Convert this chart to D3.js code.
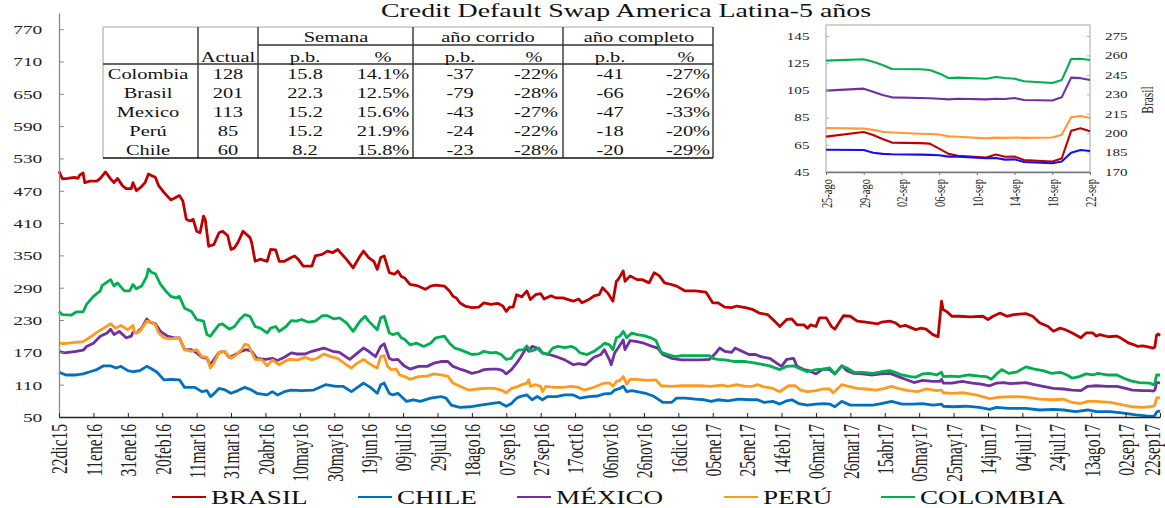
<!DOCTYPE html>
<html>
<head>
<meta charset="utf-8">
<script src="https://cdn.jsdelivr.net/npm/d3@7"></script>
<style>
  body { margin: 0; background: #fff; }
  svg { display: block; font-family: "Liberation Serif", "Times New Roman", serif; }
</style>
</head>
<body>
<div id="chart"></div>
<script>
var svgWidth = 1165;
var svgHeight = 508;

// ---------- data ----------
var titulo = "Credit Default Swap America Latina-5 años";
var paises = ["BRASIL", "CHILE", "MÉXICO", "PERÚ", "COLOMBIA"];
var colores = ["#C00000", "#0070C0", "#7030A0", "#FF9A1F", "#00B050"];
var ticksY = [50, 110, 170, 230, 290, 350, 410, 470, 530, 590, 650, 710, 770];
var meses = ["ene", "feb", "mar", "abr", "may", "jun", "jul", "ago", "sep", "oct", "nov", "dic"];
var etiquetasX = ["22dic15", "11ene16", "31ene16", "20feb16", "11mar16", "31mar16", "20abr16", "10may16",
  "30may16", "19jun16", "09jul16", "29jul16", "18ago16", "07sep16", "27sep16", "17oct16", "06nov16",
  "26nov16", "16dic16", "05ene17", "25ene17", "14feb17", "06mar17", "26mar17", "15abr17", "05may17",
  "25may17", "14jun17", "04jul17", "24jul17", "13ago17", "02sep17", "22sep17"];

var brasil = [["2015-12-22",506],["2015-12-24",492],["2015-12-27",493],["2015-12-31",495],["2016-01-02",493],["2016-01-03",499],["2016-01-05",503],["2016-01-06",485],["2016-01-09",488],["2016-01-13",488],["2016-01-15",493],["2016-01-17",501],["2016-01-18",505],["2016-01-21",492],["2016-01-23",485],["2016-01-25",493],["2016-01-28",479],["2016-01-30",474],["2016-02-02",474],["2016-02-03",485],["2016-02-05",470],["2016-02-08",478],["2016-02-10",485],["2016-02-12",501],["2016-02-14",498],["2016-02-16",495],["2016-02-18",479],["2016-02-21",467],["2016-02-25",453],["2016-02-27",456],["2016-03-01",461],["2016-03-03",451],["2016-03-05",417],["2016-03-07",414],["2016-03-09",417],["2016-03-11",395],["2016-03-13",392],["2016-03-15",423],["2016-03-16",417],["2016-03-18",367],["2016-03-21",370],["2016-03-24",392],["2016-03-26",395],["2016-03-29",387],["2016-03-31",361],["2016-04-02",364],["2016-04-04",374],["2016-04-07",395],["2016-04-11",383],["2016-04-12",374],["2016-04-14",339],["2016-04-17",343],["2016-04-21",339],["2016-04-23",361],["2016-04-26",360],["2016-04-28",339],["2016-05-01",339],["2016-05-05",346],["2016-05-07",349],["2016-05-09",343],["2016-05-12",330],["2016-05-17",330],["2016-05-19",349],["2016-05-23",352],["2016-05-26",358],["2016-05-29",355],["2016-06-01",361],["2016-06-06",343],["2016-06-10",327],["2016-06-14",349],["2016-06-16",358],["2016-06-19",346],["2016-06-22",339],["2016-06-24",324],["2016-06-26",346],["2016-06-28",349],["2016-07-01",318],["2016-07-04",315],["2016-07-06",321],["2016-07-08",311],["2016-07-10",308],["2016-07-13",296],["2016-07-17",294],["2016-07-20",290],["2016-07-22",287],["2016-07-25",293],["2016-07-28",295],["2016-08-02",293],["2016-08-05",284],["2016-08-07",274],["2016-08-09",271],["2016-08-11",262],["2016-08-14",256],["2016-08-18",253],["2016-08-22",254],["2016-08-25",262],["2016-08-29",259],["2016-09-02",261],["2016-09-05",256],["2016-09-07",246],["2016-09-09",254],["2016-09-11",254],["2016-09-13",277],["2016-09-16",273],["2016-09-19",284],["2016-09-21",268],["2016-09-24",277],["2016-09-27",279],["2016-09-29",269],["2016-10-03",275],["2016-10-06",271],["2016-10-10",271],["2016-10-13",268],["2016-10-16",265],["2016-10-19",269],["2016-10-21",262],["2016-10-25",268],["2016-10-28",275],["2016-10-31",277],["2016-11-02",290],["2016-11-05",280],["2016-11-08",265],["2016-11-10",302],["2016-11-11",305],["2016-11-14",321],["2016-11-15",302],["2016-11-18",312],["2016-11-22",305],["2016-11-25",305],["2016-11-29",299],["2016-12-02",318],["2016-12-05",312],["2016-12-08",299],["2016-12-12",296],["2016-12-15",293],["2016-12-20",284],["2016-12-26",284],["2017-01-01",282],["2017-01-05",262],["2017-01-08",262],["2017-01-12",254],["2017-01-16",253],["2017-01-19",256],["2017-01-24",253],["2017-01-28",250],["2017-02-01",243],["2017-02-06",240],["2017-02-10",228],["2017-02-13",218],["2017-02-17",231],["2017-02-20",232],["2017-02-23",221],["2017-02-27",221],["2017-03-01",215],["2017-03-03",221],["2017-03-06",218],["2017-03-08",234],["2017-03-12",234],["2017-03-15",218],["2017-03-17",213],["2017-03-20",228],["2017-03-22",238],["2017-03-26",237],["2017-03-30",228],["2017-04-04",226],["2017-04-11",223],["2017-04-13",226],["2017-04-18",228],["2017-04-21",225],["2017-04-24",218],["2017-04-27",220],["2017-05-01",215],["2017-05-03",212],["2017-05-06",215],["2017-05-09",213],["2017-05-13",203],["2017-05-16",199],["2017-05-18",265],["2017-05-19",249],["2017-05-21",246],["2017-05-24",237],["2017-05-28",237],["2017-06-04",236],["2017-06-11",237],["2017-06-14",231],["2017-06-17",237],["2017-06-21",243],["2017-06-25",237],["2017-06-29",240],["2017-07-06",242],["2017-07-10",237],["2017-07-14",225],["2017-07-19",218],["2017-07-22",209],["2017-07-26",215],["2017-07-29",212],["2017-08-02",206],["2017-08-07",197],["2017-08-10",206],["2017-08-14",206],["2017-08-16",200],["2017-08-18",203],["2017-08-23",199],["2017-08-28",200],["2017-08-30",197],["2017-09-04",187],["2017-09-07",184],["2017-09-09",181],["2017-09-12",182],["2017-09-15",180],["2017-09-18",178],["2017-09-19",180],["2017-09-20",202],["2017-09-21",204],["2017-09-22",201]];

var chile = [["2015-12-22",133],["2015-12-26",128],["2016-01-01",128],["2016-01-05",130],["2016-01-09",134],["2016-01-13",138],["2016-01-17",145],["2016-01-21",145],["2016-01-24",141],["2016-01-27",144],["2016-01-31",136],["2016-02-03",134],["2016-02-07",136],["2016-02-11",144],["2016-02-14",139],["2016-02-17",133],["2016-02-21",119],["2016-02-25",120],["2016-03-01",119],["2016-03-04",105],["2016-03-10",105],["2016-03-14",97],["2016-03-17",99],["2016-03-19",88],["2016-03-21",93],["2016-03-24",103],["2016-03-27",101],["2016-03-31",94],["2016-04-04",99],["2016-04-08",105],["2016-04-12",100],["2016-04-15",94],["2016-04-21",91],["2016-04-24",97],["2016-04-27",91],["2016-05-01",97],["2016-05-05",100],["2016-05-11",99],["2016-05-18",100],["2016-05-25",110],["2016-05-31",107],["2016-06-04",107],["2016-06-09",97],["2016-06-16",113],["2016-06-20",105],["2016-06-24",94],["2016-06-26",110],["2016-06-28",113],["2016-07-01",94],["2016-07-03",91],["2016-07-06",94],["2016-07-08",88],["2016-07-11",79],["2016-07-15",82],["2016-07-19",79],["2016-07-25",85],["2016-07-31",88],["2016-08-03",85],["2016-08-06",72],["2016-08-11",68],["2016-08-17",69],["2016-08-23",72],["2016-08-29",75],["2016-09-03",77],["2016-09-07",70],["2016-09-10",75],["2016-09-13",85],["2016-09-15",88],["2016-09-19",91],["2016-09-22",82],["2016-09-25",88],["2016-09-28",82],["2016-10-01",88],["2016-10-06",88],["2016-10-11",91],["2016-10-16",91],["2016-10-20",85],["2016-10-25",88],["2016-10-30",89],["2016-11-03",93],["2016-11-07",94],["2016-11-09",100],["2016-11-12",103],["2016-11-14",107],["2016-11-16",97],["2016-11-19",99],["2016-11-22",97],["2016-11-27",94],["2016-12-02",88],["2016-12-07",77],["2016-12-12",77],["2016-12-15",85],["2016-12-20",85],["2016-12-26",83],["2016-12-31",82],["2017-01-04",79],["2017-01-08",82],["2017-01-14",80],["2017-01-20",83],["2017-01-26",82],["2017-01-31",82],["2017-02-04",77],["2017-02-09",79],["2017-02-13",74],["2017-02-17",80],["2017-02-20",82],["2017-02-24",75],["2017-03-01",72],["2017-03-06",74],["2017-03-11",75],["2017-03-14",74],["2017-03-17",69],["2017-03-21",79],["2017-03-26",72],["2017-04-01",72],["2017-04-08",72],["2017-04-13",75],["2017-04-19",79],["2017-04-25",74],["2017-05-01",74],["2017-05-07",75],["2017-05-13",72],["2017-05-18",74],["2017-05-19",70],["2017-05-25",69],["2017-06-01",70],["2017-06-09",68],["2017-06-15",64],["2017-06-19",68],["2017-06-26",66],["2017-07-06",66],["2017-07-14",63],["2017-07-22",64],["2017-07-28",63],["2017-08-04",60],["2017-08-11",63],["2017-08-16",60],["2017-08-24",60],["2017-09-01",57],["2017-09-08",54],["2017-09-14",52],["2017-09-18",51],["2017-09-19",53],["2017-09-20",59],["2017-09-21",61],["2017-09-22",60]];

var mexico = [["2015-12-22",172],["2015-12-25",169],["2016-01-01",172],["2016-01-05",174],["2016-01-07",181],["2016-01-11",187],["2016-01-15",200],["2016-01-19",206],["2016-01-21",213],["2016-01-23",203],["2016-01-26",209],["2016-01-30",197],["2016-02-02",200],["2016-02-03",207],["2016-02-05",206],["2016-02-08",215],["2016-02-11",232],["2016-02-13",226],["2016-02-16",223],["2016-02-19",209],["2016-02-23",200],["2016-02-27",197],["2016-03-01",197],["2016-03-04",175],["2016-03-08",175],["2016-03-11",169],["2016-03-14",161],["2016-03-17",159],["2016-03-19",147],["2016-03-21",156],["2016-03-24",170],["2016-03-27",172],["2016-03-30",161],["2016-04-02",165],["2016-04-06",172],["2016-04-09",175],["2016-04-12",172],["2016-04-15",159],["2016-04-20",157],["2016-04-24",159],["2016-04-27",155],["2016-05-01",161],["2016-05-05",169],["2016-05-08",167],["2016-05-13",167],["2016-05-17",172],["2016-05-24",178],["2016-05-29",172],["2016-06-02",170],["2016-06-08",157],["2016-06-11",165],["2016-06-16",178],["2016-06-19",172],["2016-06-23",162],["2016-06-26",181],["2016-06-28",186],["2016-07-01",159],["2016-07-03",156],["2016-07-06",157],["2016-07-08",150],["2016-07-10",144],["2016-07-13",139],["2016-07-18",144],["2016-07-23",144],["2016-07-27",150],["2016-07-31",153],["2016-08-04",153],["2016-08-07",144],["2016-08-11",139],["2016-08-14",136],["2016-08-18",131],["2016-08-22",134],["2016-08-25",138],["2016-08-29",139],["2016-09-02",139],["2016-09-05",136],["2016-09-07",130],["2016-09-10",138],["2016-09-13",150],["2016-09-15",159],["2016-09-18",175],["2016-09-19",178],["2016-09-20",172],["2016-09-22",181],["2016-09-25",178],["2016-09-28",169],["2016-10-02",166],["2016-10-07",161],["2016-10-11",156],["2016-10-16",147],["2016-10-19",149],["2016-10-23",147],["2016-10-28",161],["2016-11-01",166],["2016-11-03",175],["2016-11-06",156],["2016-11-07",147],["2016-11-09",169],["2016-11-11",178],["2016-11-14",193],["2016-11-15",175],["2016-11-18",192],["2016-11-22",190],["2016-11-26",187],["2016-11-30",182],["2016-12-04",178],["2016-12-07",166],["2016-12-12",159],["2016-12-18",156],["2016-12-24",156],["2016-12-29",156],["2017-01-03",157],["2017-01-06",166],["2017-01-09",178],["2017-01-12",172],["2017-01-16",170],["2017-01-18",178],["2017-01-22",172],["2017-01-26",166],["2017-01-30",166],["2017-02-02",162],["2017-02-07",159],["2017-02-14",144],["2017-02-17",157],["2017-02-21",159],["2017-02-23",144],["2017-02-27",138],["2017-03-02",136],["2017-03-06",130],["2017-03-10",139],["2017-03-14",138],["2017-03-17",130],["2017-03-21",145],["2017-03-24",136],["2017-03-28",131],["2017-04-02",130],["2017-04-08",128],["2017-04-13",130],["2017-04-18",131],["2017-04-23",125],["2017-04-27",120],["2017-05-02",114],["2017-05-07",118],["2017-05-13",116],["2017-05-17",116],["2017-05-18",120],["2017-05-19",113],["2017-05-24",113],["2017-05-30",116],["2017-06-05",113],["2017-06-10",111],["2017-06-15",108],["2017-06-19",113],["2017-06-23",114],["2017-06-27",112],["2017-07-02",113],["2017-07-06",114],["2017-07-11",110],["2017-07-16",107],["2017-07-22",103],["2017-07-28",102],["2017-08-02",100],["2017-08-07",99],["2017-08-11",107],["2017-08-16",108],["2017-08-22",107],["2017-08-28",107],["2017-09-02",103],["2017-09-06",100],["2017-09-12",99],["2017-09-16",99],["2017-09-18",98],["2017-09-19",100],["2017-09-20",114],["2017-09-21",114],["2017-09-22",113]];

var peru = [["2015-12-22",188],["2015-12-24",186],["2015-12-30",188],["2016-01-05",190],["2016-01-09",198],["2016-01-13",207],["2016-01-17",215],["2016-01-21",223],["2016-01-24",215],["2016-01-27",220],["2016-01-31",212],["2016-02-03",220],["2016-02-04",206],["2016-02-07",209],["2016-02-11",228],["2016-02-14",226],["2016-02-16",221],["2016-02-18",206],["2016-02-21",197],["2016-02-25",195],["2016-03-01",197],["2016-03-04",175],["2016-03-08",172],["2016-03-11",175],["2016-03-14",162],["2016-03-17",161],["2016-03-19",141],["2016-03-21",150],["2016-03-24",170],["2016-03-27",172],["2016-03-31",159],["2016-04-03",165],["2016-04-06",175],["2016-04-08",185],["2016-04-10",184],["2016-04-14",157],["2016-04-18",156],["2016-04-21",145],["2016-04-24",156],["2016-04-28",147],["2016-05-01",153],["2016-05-04",157],["2016-05-09",156],["2016-05-13",161],["2016-05-17",156],["2016-05-20",159],["2016-05-24",167],["2016-05-28",162],["2016-06-01",159],["2016-06-06",147],["2016-06-09",141],["2016-06-12",149],["2016-06-16",157],["2016-06-19",150],["2016-06-22",144],["2016-06-24",141],["2016-06-26",162],["2016-06-28",164],["2016-06-30",144],["2016-07-02",138],["2016-07-05",139],["2016-07-07",128],["2016-07-10",125],["2016-07-13",120],["2016-07-18",125],["2016-07-23",126],["2016-07-27",130],["2016-07-31",128],["2016-08-04",126],["2016-08-07",113],["2016-08-11",107],["2016-08-16",100],["2016-08-21",102],["2016-08-26",103],["2016-08-31",103],["2016-09-04",100],["2016-09-07",95],["2016-09-10",103],["2016-09-14",107],["2016-09-16",110],["2016-09-19",113],["2016-09-20",119],["2016-09-21",107],["2016-09-24",110],["2016-09-27",107],["2016-09-28",97],["2016-09-30",107],["2016-10-05",105],["2016-10-10",105],["2016-10-15",107],["2016-10-19",105],["2016-10-22",100],["2016-10-26",103],["2016-10-30",108],["2016-11-03",113],["2016-11-06",113],["2016-11-08",107],["2016-11-10",116],["2016-11-12",118],["2016-11-14",125],["2016-11-16",111],["2016-11-18",120],["2016-11-22",120],["2016-11-28",118],["2016-12-03",119],["2016-12-06",108],["2016-12-12",107],["2016-12-18",108],["2016-12-24",108],["2016-12-29",108],["2017-01-04",107],["2017-01-10",109],["2017-01-14",107],["2017-01-19",110],["2017-01-24",107],["2017-01-28",107],["2017-01-31",110],["2017-02-04",106],["2017-02-09",103],["2017-02-13",97],["2017-02-18",108],["2017-02-22",108],["2017-02-25",100],["2017-03-01",97],["2017-03-06",99],["2017-03-10",102],["2017-03-14",102],["2017-03-16",95],["2017-03-21",110],["2017-03-25",107],["2017-03-30",103],["2017-04-04",102],["2017-04-10",100],["2017-04-15",103],["2017-04-19",107],["2017-04-24",102],["2017-04-29",99],["2017-05-04",97],["2017-05-09",102],["2017-05-15",99],["2017-05-18",100],["2017-05-19",95],["2017-05-24",94],["2017-05-31",95],["2017-06-07",91],["2017-06-15",84],["2017-06-21",87],["2017-06-28",88],["2017-07-06",87],["2017-07-14",83],["2017-07-22",82],["2017-07-28",83],["2017-08-02",77],["2017-08-07",75],["2017-08-11",79],["2017-08-16",79],["2017-08-24",77],["2017-09-01",72],["2017-09-06",69],["2017-09-12",68],["2017-09-16",69],["2017-09-18",70],["2017-09-19",72],["2017-09-20",85],["2017-09-21",86],["2017-09-22",85]];

var colombia = [["2015-12-22",246],["2015-12-24",240],["2015-12-29",239],["2016-01-01",245],["2016-01-05",245],["2016-01-07",259],["2016-01-11",274],["2016-01-15",284],["2016-01-16",294],["2016-01-21",305],["2016-01-23",293],["2016-01-25",299],["2016-01-29",284],["2016-02-01",284],["2016-02-03",296],["2016-02-05",288],["2016-02-08",293],["2016-02-11",311],["2016-02-12",325],["2016-02-14",318],["2016-02-16",316],["2016-02-19",296],["2016-02-22",284],["2016-02-25",274],["2016-02-28",271],["2016-03-01",274],["2016-03-04",252],["2016-03-08",246],["2016-03-11",231],["2016-03-15",228],["2016-03-17",203],["2016-03-19",200],["2016-03-21",209],["2016-03-24",221],["2016-03-26",223],["2016-03-30",213],["2016-04-02",218],["2016-04-05",231],["2016-04-08",240],["2016-04-11",237],["2016-04-14",218],["2016-04-17",215],["2016-04-21",206],["2016-04-23",215],["2016-04-26",218],["2016-04-28",209],["2016-05-02",218],["2016-05-05",229],["2016-05-08",228],["2016-05-11",231],["2016-05-15",226],["2016-05-19",228],["2016-05-23",238],["2016-05-26",238],["2016-05-30",232],["2016-06-02",234],["2016-06-06",225],["2016-06-10",209],["2016-06-14",228],["2016-06-17",237],["2016-06-19",228],["2016-06-24",212],["2016-06-26",234],["2016-06-28",237],["2016-07-01",206],["2016-07-03",203],["2016-07-06",206],["2016-07-08",197],["2016-07-10",194],["2016-07-13",184],["2016-07-17",187],["2016-07-21",181],["2016-07-25",187],["2016-07-28",197],["2016-08-02",200],["2016-08-05",187],["2016-08-08",178],["2016-08-11",175],["2016-08-15",170],["2016-08-18",166],["2016-08-22",167],["2016-08-25",172],["2016-08-29",169],["2016-09-01",170],["2016-09-04",166],["2016-09-07",157],["2016-09-10",159],["2016-09-12",169],["2016-09-14",174],["2016-09-17",175],["2016-09-19",182],["2016-09-21",172],["2016-09-23",174],["2016-09-26",178],["2016-09-28",169],["2016-10-01",166],["2016-10-04",178],["2016-10-07",181],["2016-10-11",179],["2016-10-15",181],["2016-10-17",178],["2016-10-20",169],["2016-10-24",166],["2016-10-28",172],["2016-11-01",181],["2016-11-03",187],["2016-11-06",184],["2016-11-08",175],["2016-11-10",197],["2016-11-12",200],["2016-11-14",209],["2016-11-16",197],["2016-11-19",206],["2016-11-22",203],["2016-11-26",201],["2016-11-30",197],["2016-12-03",192],["2016-12-06",170],["2016-12-10",166],["2016-12-14",162],["2016-12-18",164],["2016-12-24",164],["2016-12-29",164],["2017-01-03",164],["2017-01-05",159],["2017-01-08",157],["2017-01-12",156],["2017-01-18",153],["2017-01-24",153],["2017-01-28",151],["2017-02-02",148],["2017-02-07",145],["2017-02-13",138],["2017-02-17",144],["2017-02-21",145],["2017-02-25",139],["2017-03-01",134],["2017-03-06",138],["2017-03-10",139],["2017-03-14",141],["2017-03-17",130],["2017-03-21",145],["2017-03-24",141],["2017-03-28",133],["2017-04-02",133],["2017-04-08",131],["2017-04-13",134],["2017-04-18",136],["2017-04-21",133],["2017-04-25",128],["2017-04-30",125],["2017-05-03",124],["2017-05-07",130],["2017-05-11",131],["2017-05-15",128],["2017-05-18",133],["2017-05-19",125],["2017-05-23",126],["2017-05-28",125],["2017-06-03",128],["2017-06-09",126],["2017-06-13",125],["2017-06-16",120],["2017-06-19",130],["2017-06-22",138],["2017-06-26",131],["2017-07-01",134],["2017-07-06",143],["2017-07-11",139],["2017-07-16",136],["2017-07-21",131],["2017-07-26",133],["2017-07-30",128],["2017-08-02",122],["2017-08-06",125],["2017-08-10",130],["2017-08-14",128],["2017-08-17",131],["2017-08-22",128],["2017-08-28",128],["2017-09-01",122],["2017-09-05",117],["2017-09-10",114],["2017-09-16",113],["2017-09-18",110],["2017-09-19",113],["2017-09-20",128],["2017-09-21",128],["2017-09-22",128]];

// tabla
var tablaPaises = ["Colombia", "Brasil", "Mexico", "Perú", "Chile"];
var actual = ["128", "201", "113", "85", "60"];
var semanaPb = ["15.8", "22.3", "15.2", "15.2", "8.2"];
var semanaPct = ["14.1%", "12.5%", "15.6%", "21.9%", "15.8%"];
var corridoPb = ["-37", "-79", "-43", "-24", "-23"];
var corridoPct = ["-22%", "-28%", "-27%", "-22%", "-28%"];
var completoPb = ["-41", "-66", "-47", "-18", "-20"];
var completoPct = ["-27%", "-26%", "-33%", "-20%", "-29%"];

// recuadro ultimo mes
var fechasZoom = ["2017-08-25","2017-08-29","2017-08-30","2017-08-31","2017-09-01","2017-09-04","2017-09-05",
  "2017-09-06","2017-09-07","2017-09-08","2017-09-11","2017-09-12","2017-09-13","2017-09-14","2017-09-15",
  "2017-09-18","2017-09-19","2017-09-20","2017-09-21","2017-09-22"];
var zoomBrasil = [197.3,200.9,198.5,195.5,192.7,192.3,191.9,188,184,182.5,181.2,183.5,181.8,182,179.2,178.1,180.4,201.8,203.7,201.4];
var zoomChile = [61.4,61.2,59.2,58.3,58,57.8,57.6,57.3,56.3,56.3,55.1,55.3,54.1,54.3,52.4,51.4,52.7,59.2,61.2,60.4];
var zoomMexico = [104.8,106.3,104,101.6,99.9,99.4,99.2,98.9,98.4,98.9,98.4,98.9,98.7,99.4,97.9,97.6,99.9,114.4,114,112.6];
var zoomPeru = [77.4,76.9,76,74.5,74.1,73.1,72.9,72.6,71.2,70.9,69.7,70.3,70.1,70.4,70.1,70.4,72.4,85.2,86.2,84.7];
var zoomColombia = [126.9,127.9,126.1,123.7,120.7,120.5,120,117.5,114.1,114.4,113.6,114.9,114.1,113.6,111.7,110.4,112.6,128.1,128.3,127.4];
var coloresZoom = ["#C00000", "#1010F0", "#7030A0", "#FF9933", "#00B050"];
var ticksZoomIzq = [45, 65, 85, 105, 125, 145];
var ticksZoomDer = [170, 185, 200, 215, 230, 245, 260, 275];
var etiquetasZoomX = ["25-ago", "29-ago", "02-sep", "06-sep", "10-sep", "14-sep", "18-sep", "22-sep"];

// ---------- helpers ----------
var parseFecha = d3.utcParse("%Y-%m-%d");
function parseEtiqueta(s, anio) {
  // "22dic15" o "25-ago"
  var dia = +s.slice(0, 2);
  var resto = s.slice(2).replace("-", "");
  var mes = meses.indexOf(resto.slice(0, 3));
  var yy = anio || 2000 + (+resto.slice(3));
  return new Date(Date.UTC(yy, mes, dia));
}
var SX = 1.44; // texto ensanchado como en la imagen original
var fuente = '"Liberation Serif", "Times New Roman", serif';

var svg = d3.select("#chart").append("svg")
  .attr("width", svgWidth)
  .attr("height", svgHeight);

function texto(g, x, y, s, size, anchor, sx) {
  return g.append("text")
    .attr("transform", `translate(${x},${y}) scale(${sx || SX},1)`)
    .attr("font-size", size)
    .attr("text-anchor", anchor || "middle")
    .attr("fill", "#111")
    .text(s);
}

// ---------- title ----------
texto(svg, 626, 17, titulo, 18, "middle", 1.55);

// ---------- main chart ----------
var x = d3.scaleUtc()
  .domain([parseFecha("2015-12-22"), parseFecha("2017-09-22")])
  .range([59, 1160]);
var y = d3.scaleLinear().domain([50, 800]).range([417, 13]);

var series = [brasil, chile, mexico, peru, colombia];
var linea = d3.line()
  .x(d => x(parseFecha(d[0])))
  .y(d => y(d[1]));

series.forEach(function(s, i) {
  svg.append("path")
    .datum(s)
    .attr("fill", "none")
    .attr("stroke", colores[i])
    .attr("stroke-width", 2.8)
    .attr("stroke-linejoin", "round")
    .attr("d", linea);
});

var yAxis = d3.axisLeft(y).tickValues(ticksY).tickSizeInner(-5).tickSizeOuter(0).tickPadding(11.6);
var gy = svg.append("g").attr("transform", "translate(59,0)").call(yAxis)
  .attr("font-family", fuente).attr("font-size", 13.5);
gy.select(".domain").attr("stroke", "#8a8a8a").attr("stroke-width", 1.3);
gy.selectAll(".tick line").attr("stroke", "#8a8a8a");
gy.selectAll(".tick text").attr("transform", `scale(${SX},1)`).attr("fill", "#222");

var xAxis = d3.axisBottom(x)
  .tickValues(etiquetasX.map(e => parseEtiqueta(e)))
  .tickFormat((d, i) => etiquetasX[i])
  .tickSizeInner(-4).tickSizeOuter(0);
var gx = svg.append("g").attr("transform", "translate(0,417)").call(xAxis)
  .attr("font-family", fuente).attr("font-size", 15.5);
gx.select(".domain").attr("stroke", "#222").attr("stroke-width", 1.3);
gx.selectAll(".tick line").attr("stroke", "#222");
var nX = etiquetasX.length;
gx.selectAll(".tick text")
  .attr("transform", (d, i) => `translate(${i === nX - 1 ? -8 : 0},0) scale(${SX},1) rotate(-90)`)
  .attr("x", -7).attr("y", 0).attr("dy", "0.35em")
  .attr("text-anchor", "end").attr("fill", "#222");

// ---------- legend ----------
var legX = [172, 358, 517, 724, 881];
var leyenda = svg.append("g");
paises.forEach(function(p, i) {
  leyenda.append("line")
    .attr("x1", legX[i]).attr("x2", legX[i] + 34)
    .attr("y1", 497).attr("y2", 497)
    .attr("stroke", colores[i]).attr("stroke-width", 2.2);
  texto(leyenda, legX[i] + 39, 504, p, 19, "start", 1.43);
});

// ---------- table ----------
var tabla = svg.append("g").attr("font-family", fuente);
var gris = "#c4c4c4", oscuro = "#333";
function raya(x1, y1, x2, y2, c, w) {
  tabla.append("line").attr("x1", x1).attr("y1", y1).attr("x2", x2).attr("y2", y2)
    .attr("stroke", c).attr("stroke-width", w || 1.4);
}
raya(103, 27, 713, 27, gris, 1.6);
raya(103, 27, 103, 158, gris, 1.6);
[198, 258, 413, 563, 713].forEach(v => raya(v, 27, v, 158, oscuro));
raya(258, 45, 713, 45, oscuro);
raya(103, 64, 713, 64, oscuro);
raya(103, 158, 713, 158, "#111", 1.6);

var tSize = 15, tSX = 1.36;
texto(tabla, 336, 41.7, "Semana", tSize, "middle", tSX);
texto(tabla, 488, 41.7, "año corrido", tSize, "middle", tSX);
texto(tabla, 639, 41.7, "año completo", tSize, "middle", tSX);
var colX = [148, 228, 305, 383, 460, 534, 610, 686];
var cab = ["", "Actual", "p.b.", "%", "p.b.", "%", "p.b.", "%"];
cab.forEach((c, j) => { if (c) texto(tabla, colX[j], 61.5, c, tSize, "middle", tSX); });
var columnas = [tablaPaises, actual, semanaPb, semanaPct, corridoPb, corridoPct, completoPb, completoPct];
var filasY = [79.3, 98.3, 117.3, 136.3, 155];
columnas.forEach(function(col, j) {
  col.forEach(function(v, i) {
    texto(tabla, colX[j] + (j === 5 || j === 7 ? 2 : 0), filasY[i], v, tSize, "middle", tSX);
  });
});

// ---------- inset (ultimo mes) ----------
var ins = svg.append("g").attr("font-family", fuente);
var xz = d3.scaleUtc()
  .domain([parseFecha("2017-08-25"), parseFecha("2017-09-22")])
  .range([826, 1090]);
var yzL = d3.scaleLinear().domain([45, 145]).range([172, 36]);
var yzR = d3.scaleLinear().domain([170, 275]).range([172, 36]);

ins.append("rect").attr("x", 826).attr("y", 25).attr("width", 264).attr("height", 147)
  .attr("fill", "none").attr("stroke", "#c8c8c8").attr("stroke-width", 1.6);

var seriesZoom = [zoomBrasil, zoomChile, zoomMexico, zoomPeru, zoomColombia];
seriesZoom.forEach(function(s, i) {
  var yy = i === 0 ? yzR : yzL;
  var ln = d3.line().x((d, k) => xz(parseFecha(fechasZoom[k]))).y(d => yy(d));
  ins.append("path").datum(s)
    .attr("fill", "none").attr("stroke", coloresZoom[i])
    .attr("stroke-width", 2.1).attr("stroke-linejoin", "round")
    .attr("d", ln);
});

var gzl = ins.append("g").attr("transform", "translate(826,0)")
  .call(d3.axisLeft(yzL).tickValues(ticksZoomIzq).tickSizeInner(-3).tickSizeOuter(0).tickPadding(11.5))
  .attr("font-family", fuente).attr("font-size", 10.5);
var gzr = ins.append("g").attr("transform", "translate(1090,0)")
  .call(d3.axisRight(yzR).tickValues(ticksZoomDer).tickSizeInner(-3).tickSizeOuter(0).tickPadding(10.4))
  .attr("font-family", fuente).attr("font-size", 10.5);
[gzl, gzr].forEach(function(g) {
  g.select(".domain").remove();
  g.selectAll(".tick line").attr("stroke", "#b0b0b0");
  g.selectAll(".tick text").attr("transform", `scale(${SX},1)`).attr("fill", "#222");
});

var gzx = ins.append("g").attr("transform", "translate(0,172)")
  .call(d3.axisBottom(xz)
    .tickValues(etiquetasZoomX.map(e => parseEtiqueta(e, 2017)))
    .tickFormat((d, i) => etiquetasZoomX[i])
    .tickSizeInner(3).tickSizeOuter(0))
  .attr("font-family", fuente).attr("font-size", 10.5);
gzx.select(".domain").attr("stroke", "#777").attr("stroke-width", 1.3);
gzx.selectAll(".tick line").attr("stroke", "#777");
gzx.selectAll(".tick text")
  .attr("transform", `scale(${SX},1) rotate(-90)`)
  .attr("x", -7).attr("y", 0).attr("dy", "0.35em")
  .attr("text-anchor", "end").attr("fill", "#222");

ins.append("text")
  .attr("transform", `translate(1147,100) scale(${SX},1) rotate(-90)`)
  .attr("text-anchor", "middle").attr("dy", "0.35em")
  .attr("font-size", 11.5).attr("fill", "#222")
  .text("Brasil");
</script>
</body>
</html>
